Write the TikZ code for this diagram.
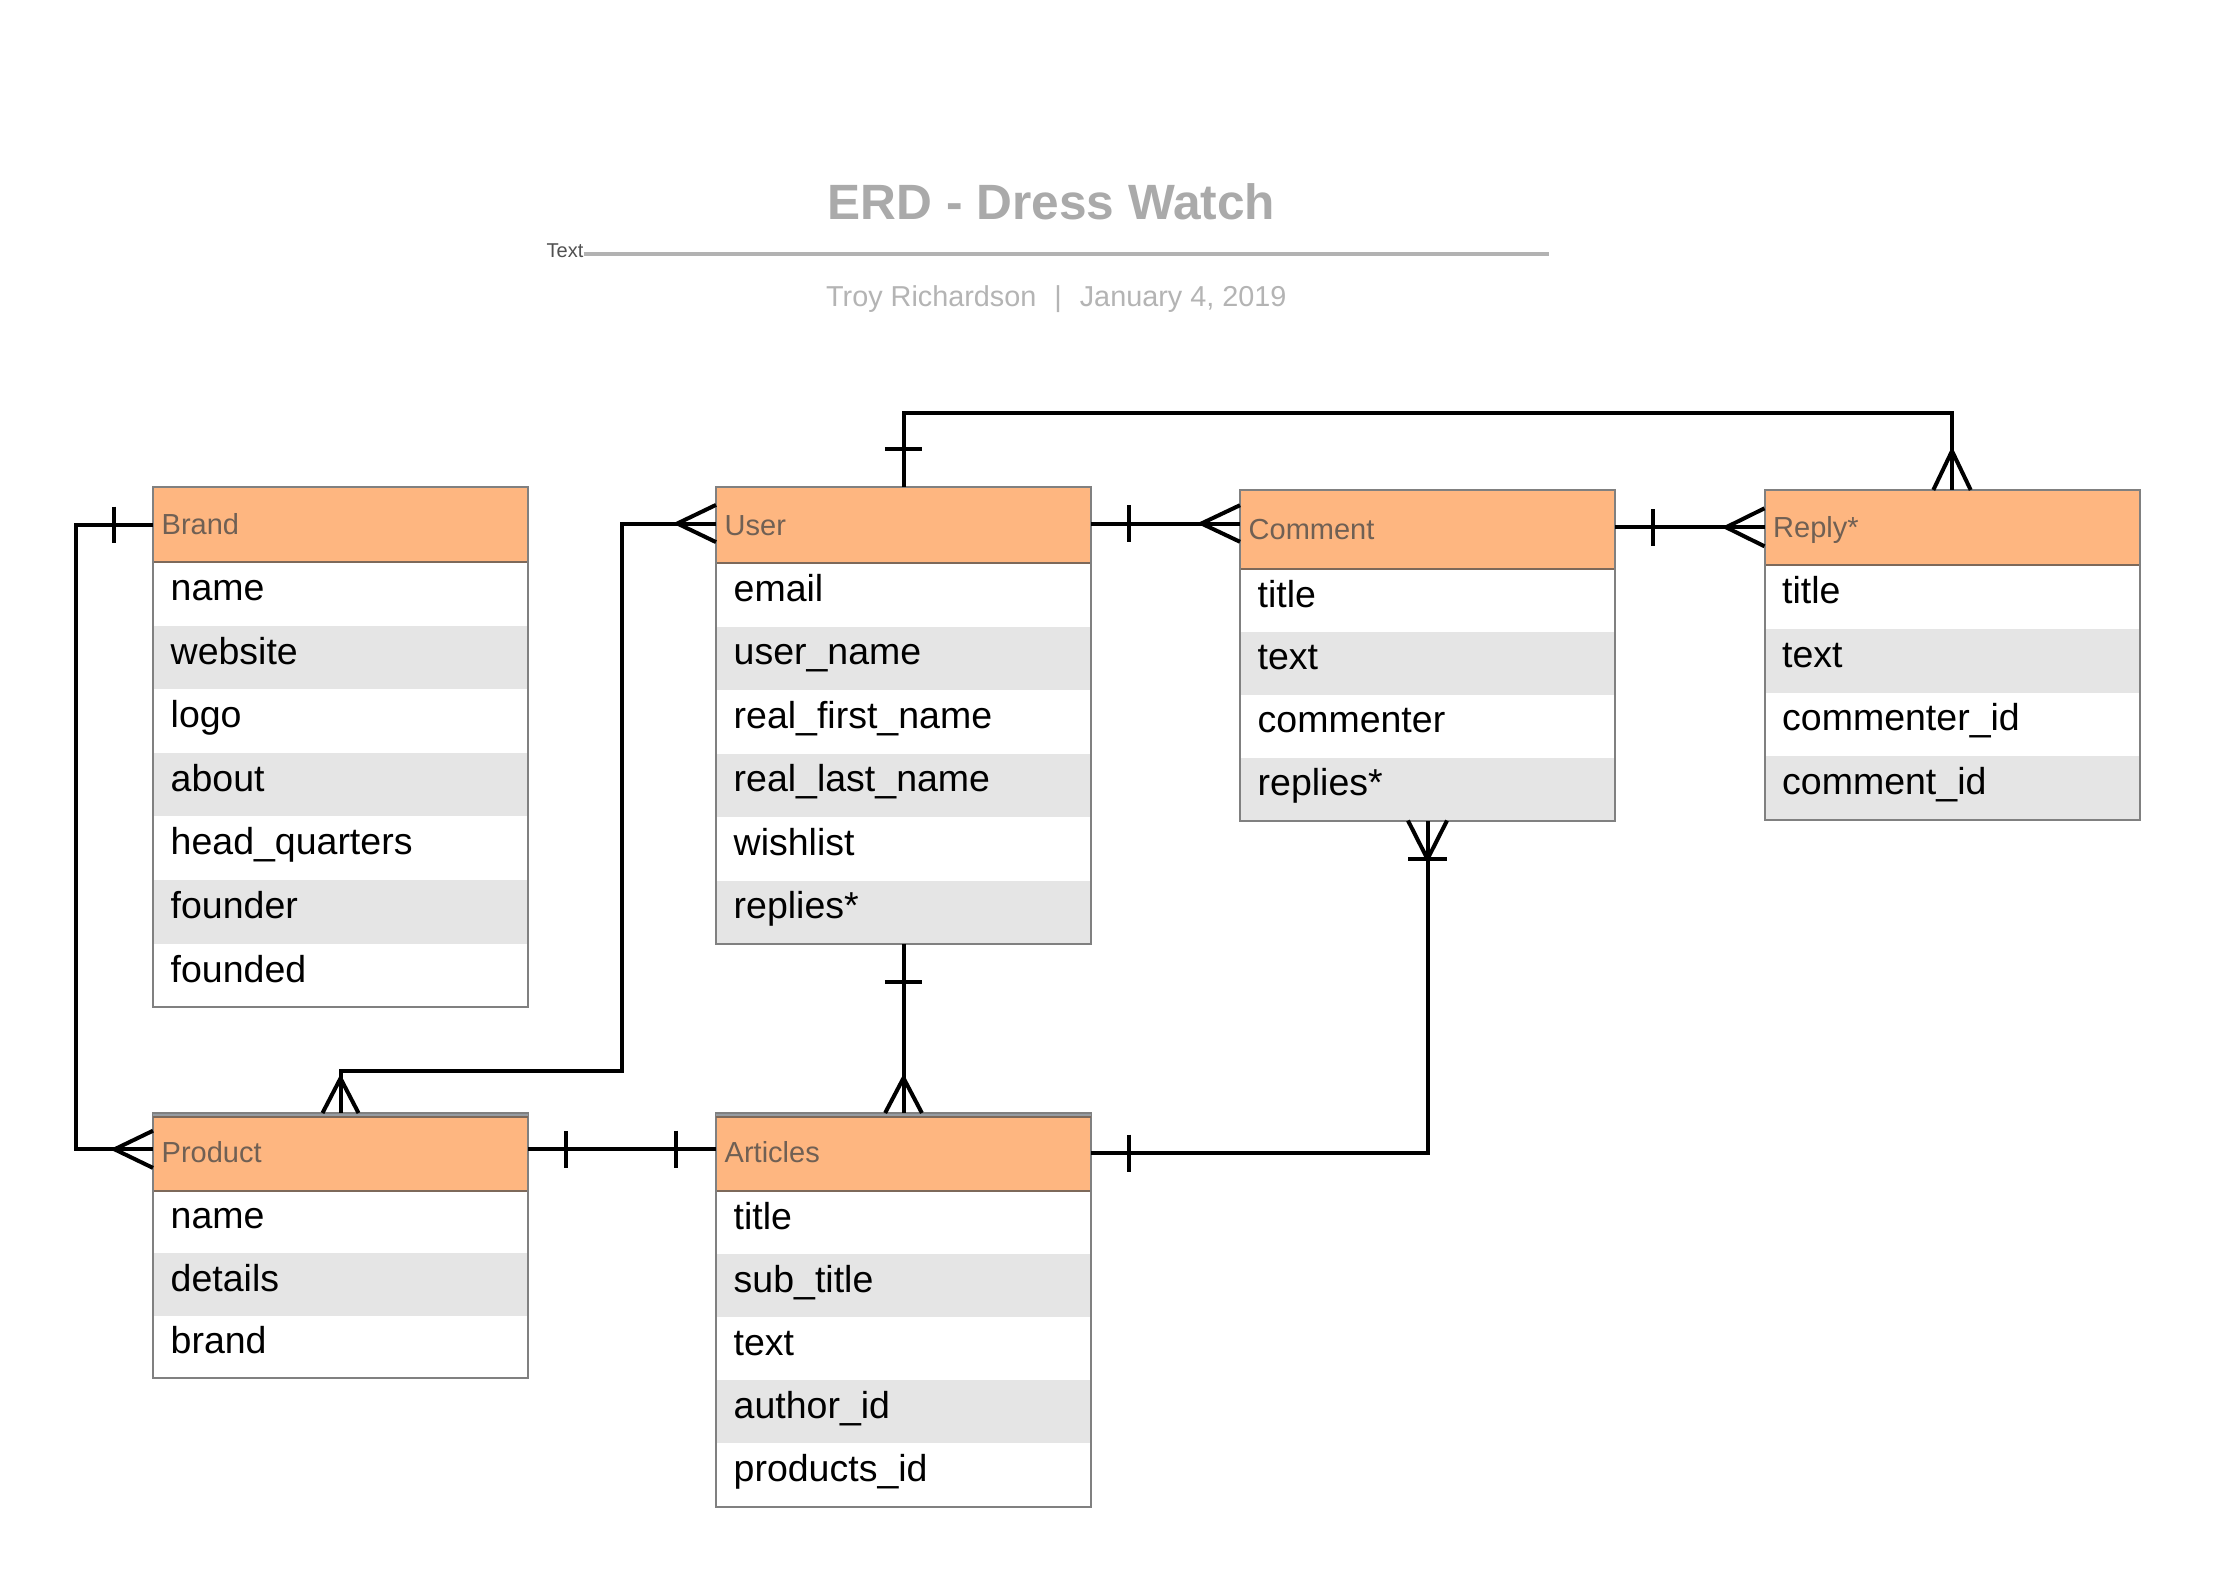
\documentclass[tikz,border=0pt]{standalone}
\usepackage{fontspec}
\setmainfont{Liberation Sans}
\definecolor{hdrorange}{RGB}{254,182,128}
\definecolor{hdrtext}{RGB}{112,96,84}
\definecolor{rowgray}{RGB}{229,229,229}
\definecolor{boxborder}{RGB}{128,128,128}
\definecolor{hdrlinecol}{RGB}{125,105,90}
\definecolor{bandgray}{RGB}{150,156,162}
\definecolor{titlegray}{RGB}{170,170,170}
\definecolor{subgray}{RGB}{180,180,180}
\definecolor{rulegray}{RGB}{178,178,178}
\definecolor{labelgray}{RGB}{80,80,80}
\newcommand\erdfs[1]{\fontsize{#1pt}{#1pt}\selectfont}
\tikzset{
  conn/.style={line width=4pt, draw=black, line cap=butt, line join=miter},
  rowbox/.style={rectangle, draw=none, inner sep=0pt, outer sep=0pt, minimum width=375pt},
  hdrbox/.style={rectangle, draw=none, fill=hdrorange, inner sep=0pt, outer sep=0pt, minimum width=375pt},
  rowtxt/.style={anchor=base west, inner sep=0pt, font={\erdfs{37.5}}, text=black},
  hdrtxt/.style={anchor=base west, inner sep=0pt, font={\erdfs{29}}, text=hdrtext},
  border/.style={draw=boxborder, line width=2pt},
  hdrline/.style={draw=hdrlinecol, line width=2pt},
  rulestyle/.style={draw=rulegray, line width=4pt},
}
% #1 name, #2 x, #3 y top, #4 header height, #5 row height, #6 number of rows, #7 title, #8 rows
\newcommand\erdbox[8]{%
  \foreach \rname [count=\ri] in {#8} {%
    \ifodd\ri \def\rfill{white}\else \def\rfill{rowgray}\fi
    \node[rowbox, fill=\rfill, minimum height=#5pt, anchor=north west] (#1-\ri) at (#2, {#3+#4+(\ri-1)*#5}) {};
    \node[rowtxt] at ([xshift=17.5pt, yshift=-6.6pt]#1-\ri.west) {\rname};
  }%
  \node[hdrbox, minimum height=#4pt, anchor=north west] (#1) at (#2,#3) {};
  \node[hdrtxt] (#1-t) at ([xshift=8.5pt, yshift=-10.4pt]#1.west) {#7};
  \draw[hdrline] (#1.south west) -- (#1.south east);
  \draw[border] (#1.north west) rectangle (#1-#6.south east);
}
\begin{document}
\begin{tikzpicture}[x=1pt, y=-1pt]
\fill[white] (0,0) rectangle (2231,1581);
\useasboundingbox (0,0) rectangle (2231,1581);

% title block
\node[anchor=base, inner sep=0pt, font={\erdfs{49.6}\bfseries}, text=titlegray] (title) at (1051.5,220) {ERD - Dress Watch};
\node[anchor=base west, inner sep=0pt, font={\erdfs{20}}, text=labelgray] (lbl) at (546.5,258) {Text};
\coordinate (ruleend) at (1549,253.7);
\draw[rulestyle] (lbl.base east |- ruleend) -- (ruleend);
\node[anchor=base west, inner sep=0pt, font={\erdfs{28.8}}, text=subgray] (sub) at (826,306.7) {Troy Richardson\hspace{18pt}|\hspace{18pt}January 4, 2019};

% entities
\erdbox{brand}{153}{487}{75}{63.6}{7}{Brand}{name,website,logo,about,head\_quarters,founder,founded}
\erdbox{user}{716}{487}{76}{63.5}{6}{User}{email,user\_name,real\_first\_name,real\_last\_name,wishlist,replies*}
\erdbox{comment}{1240}{490}{79}{62.9}{4}{Comment}{title,text,commenter,replies*}
\erdbox{reply}{1764.5}{490}{75}{63.75}{4}{Reply*}{title,text,commenter\_id,comment\_id}
\erdbox{product}{153}{1113}{78}{62.4}{3}{Product}{name,details,brand}
\erdbox{articles}{716}{1113}{78}{63.1}{5}{Articles}{title,sub\_title,text,author\_id,products\_id}

% double top edge of Product and Articles
\foreach \e in {product,articles} {
  \fill[bandgray] (\e.north west) rectangle ([yshift=-4pt]\e.north east);
  \draw[hdrline] ([yshift=-4pt]\e.north west) -- ([yshift=-4pt]\e.north east);
  \draw[border] (\e.north west) -- (\e.north east);
}

% connection points
\coordinate (bW) at (brand.west);
\coordinate (pW) at ([yshift=2.7pt]product.west);
\coordinate (pE) at ([yshift=2.7pt]product.east);
\coordinate (aW) at ([yshift=2.7pt]articles.west);
\coordinate (aE) at ([yshift=-1.3pt]articles.east);
\coordinate (uW) at ([yshift=1.5pt]user.west);
\coordinate (uE) at ([yshift=1.5pt]user.east);
\coordinate (cW) at (comment.west |- uE);
\coordinate (cE) at ([yshift=2.2pt]comment.east);
\coordinate (rW) at (reply.west |- cE);
\coordinate (uN) at (user.north);
\coordinate (rN) at (reply.north);
\coordinate (uS) at (user-6.south);
\coordinate (aN) at (articles.north);
\coordinate (pN) at (product.north);
\coordinate (cS) at (comment-4.south);
\coordinate (k1) at (76,800);
\coordinate (k2) at (622,800);
\coordinate (k3) at (500,1070.7);
\coordinate (k4) at (1400,412.5);

% connector lines
\draw[conn] (bW) -| (k1 |- pW) -- (pW);
\draw[conn] (uW) -| (k2 |- k3) -| (pN);
\draw[conn] (uE) -- (cW);
\draw[conn] (cE) -- (rW);
\draw[conn] (uN) |- (k4 -| rN) -- (rN);
\draw[conn] (uS) -- (aN);
\draw[conn] (pE) -- (aW);
\draw[conn] (aE) -| (cS);

% Brand (one) -- Product (many)
\draw[conn] ([xshift=-39pt,yshift=18pt]bW) -- ([xshift=-39pt,yshift=-18pt]bW);
\draw[conn] ([yshift=18.6pt]pW) -- ([xshift=-38.5pt]pW) -- ([yshift=-18.6pt]pW);
% User (many, left) -- Product (many, top)
\draw[conn] ([yshift=18.6pt]uW) -- ([xshift=-38.7pt]uW) -- ([yshift=-18.6pt]uW);
\draw[conn] ([xshift=-18pt]pN) -- ([yshift=34.7pt]pN) -- ([xshift=18pt]pN);
% User (one) -- Comment (many)
\draw[conn] ([xshift=37.6pt,yshift=18.3pt]uE) -- ([xshift=37.6pt,yshift=-18.3pt]uE);
\draw[conn] ([yshift=18.3pt]cW) -- ([xshift=-38.6pt]cW) -- ([yshift=-18.3pt]cW);
% Comment (one) -- Reply (many)
\draw[conn] ([xshift=38.3pt,yshift=18.3pt]cE) -- ([xshift=38.3pt,yshift=-18.3pt]cE);
\draw[conn] ([yshift=19pt]rW) -- ([xshift=-38.5pt]rW) -- ([yshift=-19pt]rW);
% User (one, top) -- Reply (many, top)
\draw[conn] ([xshift=-18.7pt,yshift=37.8pt]uN) -- ([xshift=18.7pt,yshift=37.8pt]uN);
\draw[conn] ([xshift=-18.7pt]rN) -- ([yshift=39pt]rN) -- ([xshift=18.7pt]rN);
% User (one, bottom) -- Articles (many)
\draw[conn] ([xshift=-18.7pt,yshift=-38.3pt]uS) -- ([xshift=18.7pt,yshift=-38.3pt]uS);
\draw[conn] ([xshift=-18.4pt]aN) -- ([yshift=35pt]aN) -- ([xshift=18.4pt]aN);
% Product (one) -- Articles (one)
\draw[conn] ([xshift=38.3pt,yshift=18.3pt]pE) -- ([xshift=38.3pt,yshift=-18.3pt]pE);
\draw[conn] ([xshift=-39.6pt,yshift=18.6pt]aW) -- ([xshift=-39.6pt,yshift=-18.6pt]aW);
% Articles (one) -- Comment (one or many)
\draw[conn] ([xshift=38pt,yshift=18.8pt]aE) -- ([xshift=38pt,yshift=-18.8pt]aE);
\draw[conn] ([xshift=-19.5pt]cS) -- ([yshift=-38.5pt]cS) -- ([xshift=19.5pt]cS);
\draw[conn] ([xshift=-19.5pt,yshift=-38.5pt]cS) -- ([xshift=19.5pt,yshift=-38.5pt]cS);
\end{tikzpicture}
\end{document}
